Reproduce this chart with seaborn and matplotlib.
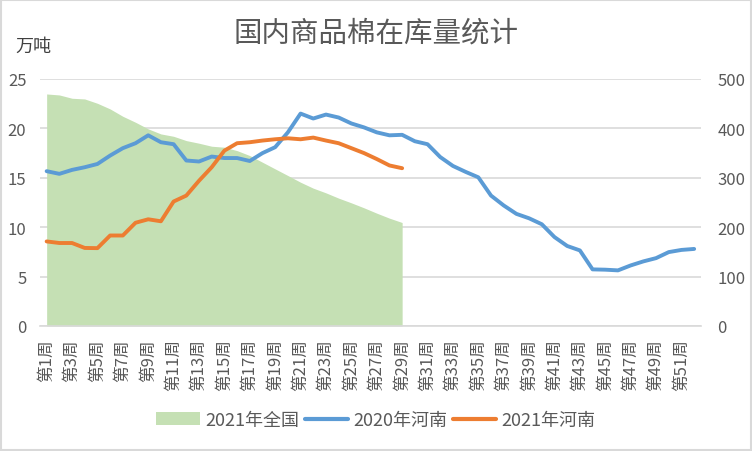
import matplotlib
matplotlib.use("Agg")
import matplotlib.pyplot as plt
import seaborn as sns
import pandas as pd
import numpy as np
from matplotlib.patches import Patch, Rectangle
from matplotlib.lines import Line2D

weeks = [f"第{i}周" for i in range(1, 53)]

henan_2020 = [15.67, 15.4, 15.8, 16.07, 16.4, 17.25, 18.0, 18.5, 19.3, 18.6,
              18.4, 16.75, 16.65, 17.15, 17.0, 17.0, 16.7, 17.5, 18.1, 19.6,
              21.5, 21.0, 21.4, 21.1, 20.5, 20.1, 19.6, 19.3, 19.35, 18.7,
              18.4, 17.1, 16.2, 15.6, 15.05, 13.2, 12.2, 11.35, 10.9, 10.3,
              9.0, 8.1, 7.65, 5.73, 5.7, 5.63, 6.13, 6.54, 6.87, 7.48,
              7.7, 7.8]

henan_2021 = [8.56, 8.4, 8.4, 7.9, 7.88, 9.16, 9.16, 10.45, 10.8, 10.6,
              12.6, 13.2, 14.7, 16.07, 17.75, 18.5, 18.6, 18.77, 18.9, 19.0,
              18.9, 19.07, 18.77, 18.5, 18.0, 17.5, 16.9, 16.25, 15.97]

national_2021 = [469.7, 467.7, 461, 459.6, 450.8, 439.4, 424.5, 412.4, 399, 388.8,
                 384, 375.3, 370, 363.9, 361.9, 355, 345, 331.5, 318, 304.6,
                 291, 279, 269.5, 258.8, 249.3, 239.2, 228.4, 218.3, 209.5]

title = "国内商品棉在库量统计"
unit_label = "万吨"
series_names = ["2021年全国", "2020年河南", "2021年河南"]

sns.set_theme(style="white")
plt.rcParams['font.family'] = ['Noto Sans CJK SC', 'DejaVu Sans']

GREEN = "#C5E0B4"
BLUE = "#5B9BD5"
ORANGE = "#ED7D31"
TXT = "#595959"

fig = plt.figure(figsize=(7.52, 4.52), dpi=100)
W, H = 752, 452
left, right, top, bottom = 40.3, 700.5, 80, 327
ax2 = fig.add_axes([left / W, 1 - bottom / H, (right - left) / W, (bottom - top) / H])
ax = ax2.twinx()
ax2.yaxis.tick_right()
ax.yaxis.tick_left()
ax.yaxis.set_label_position("left")

df20 = pd.DataFrame({"x": np.arange(len(henan_2020)), "y": henan_2020})
df21 = pd.DataFrame({"x": np.arange(len(henan_2021)), "y": henan_2021})
dfn = pd.DataFrame({"x": np.arange(len(national_2021)), "y": national_2021})

ax2.fill_between(dfn["x"], 0, dfn["y"], color=GREEN, linewidth=0, zorder=2)
sns.lineplot(data=df20, x="x", y="y", ax=ax, color=BLUE, linewidth=2.8, zorder=3)
sns.lineplot(data=df21, x="x", y="y", ax=ax, color=ORANGE, linewidth=2.8, zorder=4)

ax.set_ylim(0, 25)
ax2.set_ylim(0, 500)
ax2.set_xlim(-0.5, 51.5)
ax.set_yticks(range(0, 26, 5))
ax2.set_yticks(range(0, 501, 100))
ax2.grid(axis="y", color="#D9D9D9", linewidth=1.2)
ax2.set_axisbelow(True)
ax.grid(False)

for a in (ax, ax2):
    for s in a.spines.values():
        s.set_visible(False)
    a.set_xlabel("")
    a.set_ylabel("")
ax2.spines["bottom"].set_visible(True)
ax2.spines["bottom"].set_color("#D9D9D9")
ax2.spines["bottom"].set_linewidth(1.2)

xt = list(range(0, 52, 2))
ax2.set_xticks(xt)
ax2.set_xticklabels([weeks[i] for i in xt], rotation=90, fontsize=12, color=TXT)
ax2.set_xlim(-0.5, 51.5)

ax.tick_params(axis="y", length=0, labelsize=12, labelcolor=TXT, pad=10)
ax2.tick_params(axis="y", length=0, labelsize=12, labelcolor=TXT, pad=12)
ax2.tick_params(axis="x", length=0, pad=9)

fig.text(376 / W, 1 - 34 / H, title, ha="center", va="center", fontsize=20.5, color=TXT)
fig.text(15 / W, 1 - 47 / H, unit_label, ha="left", va="center", fontsize=13, color="#404040")

handles = [Patch(facecolor=GREEN, edgecolor="none"),
           Line2D([0], [0], color=BLUE, linewidth=3),
           Line2D([0], [0], color=ORANGE, linewidth=3)]
fig.legend(handles, series_names, loc="center", bbox_to_anchor=(376 / W, 1 - 421 / H),
           ncol=3, frameon=False, fontsize=13, handlelength=2.4, handletextpad=0.3,
           columnspacing=0.3, labelcolor=TXT)

fig.patches.append(Rectangle((0.0015, 0.0025), 0.997, 0.995, transform=fig.transFigure,
                             fill=False, edgecolor="#D9D9D9", linewidth=1.5))

fig.savefig("out.png", dpi=100)
